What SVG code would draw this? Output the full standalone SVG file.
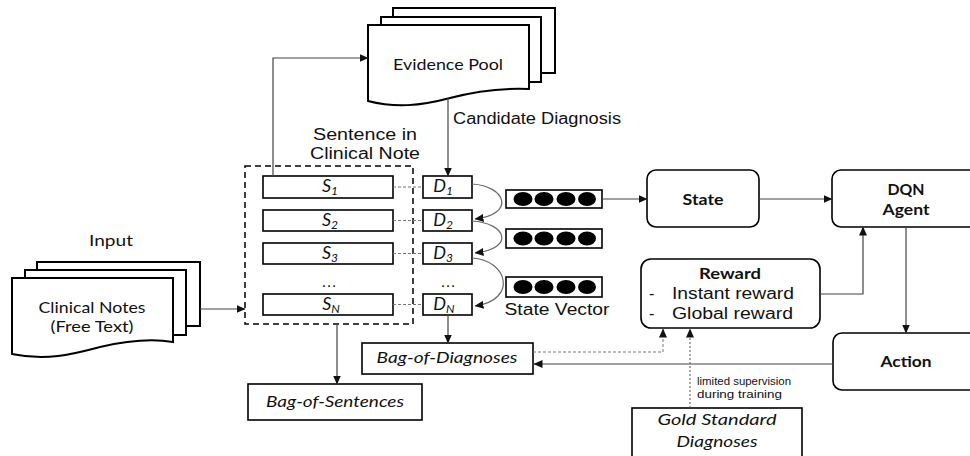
<svg xmlns="http://www.w3.org/2000/svg" width="970" height="456" viewBox="0 0 970 456">
  <defs>
    <marker id="arrow" markerUnits="userSpaceOnUse" markerWidth="9" markerHeight="8" refX="8.5" refY="4" orient="auto">
      <path d="M0,0 L9,4 L0,8 Z" fill="#111"/>
    </marker>
  </defs>
  <style>
    .doc { fill: #fff; stroke: #000; stroke-width: 2; }
    .box { fill: #fff; stroke: #000; stroke-width: 1.6; }
    .rbox { fill: #fff; stroke: #000; stroke-width: 1.6; }
    .dash-frame { fill: none; stroke: #000; stroke-width: 1.5; stroke-dasharray: 6 4; }
    .line { fill: none; stroke: #444; stroke-width: 1.2; }
    .curve { fill: none; stroke: #666; stroke-width: 1.2; }
    .link { fill: none; stroke: #777; stroke-width: 1; stroke-dasharray: 3 2; }
    .dotted { fill: none; stroke: #555; stroke-width: 1; stroke-dasharray: 2 2; }
    .sans { font-family: "Liberation Sans", Arial, sans-serif; font-size: 16px; fill: #111; }
    .small { font-family: "Liberation Sans", Arial, sans-serif; font-size: 11.5px; fill: #111; }
    .hum { font-family: Lato, "Open Sans", sans-serif; font-size: 16px; fill: #111; }
    .bold { font-family: Lato, "Open Sans", sans-serif; font-size: 16px; font-weight: bold; fill: #111; }
    .ital { font-family: Lato, "Open Sans", sans-serif; font-size: 16px; font-style: italic; fill: #111; }
    .cell { font-family: Lato, "Open Sans", sans-serif; font-size: 18px; font-style: italic; fill: #111; }
    .sub { font-size: 12px; }
    .dot { fill: #000; }
  </style>

  <!-- evidence pool document stack -->
  <g id="evidence-pool">
    <rect class="doc" x="393" y="8" width="162" height="65"/>
    <rect class="doc" x="381" y="17" width="160" height="65"/>
    <path class="doc" d="M368,25 H529 V89 C505,88 480,90 450,98 C420,106 395,108 368,101 Z"/>
    <text class="hum" x="448" y="70" text-anchor="middle" textLength="110" lengthAdjust="spacingAndGlyphs">Evidence Pool</text>
  </g>

  <!-- input clinical notes document stack -->
  <g id="clinical-notes">
    <text class="hum" x="111" y="246" text-anchor="middle" textLength="44" lengthAdjust="spacingAndGlyphs">Input</text>
    <rect class="doc" x="37" y="262" width="163" height="64"/>
    <rect class="doc" x="25" y="270" width="161" height="65"/>
    <path class="doc" d="M12,278 H173 V342 C155,339 130,340 100,347 C80,352 50,362 12,354 Z"/>
    <text class="hum" x="92" y="313" text-anchor="middle" textLength="107" lengthAdjust="spacingAndGlyphs">Clinical Notes</text>
    <text class="hum" x="92" y="332" text-anchor="middle" textLength="83" lengthAdjust="spacingAndGlyphs">(Free Text)</text>
  </g>

  <!-- sentences of the note -->
  <g id="sentences">
    <text class="sans" x="365" y="140" text-anchor="middle" textLength="104" lengthAdjust="spacingAndGlyphs">Sentence in</text>
    <text class="sans" x="365" y="159" text-anchor="middle" textLength="110" lengthAdjust="spacingAndGlyphs">Clinical Note</text>
    <rect class="dash-frame" x="245" y="166" width="168" height="158"/>
    <rect class="box" x="263" y="176" width="130" height="22"/>
    <rect class="box" x="263" y="210" width="130" height="21"/>
    <rect class="box" x="263" y="243" width="130" height="21"/>
    <rect class="box" x="263" y="294" width="130" height="21"/>
    <text class="cell" x="330" y="192" text-anchor="middle">S<tspan class="sub" dy="3">1</tspan></text>
    <text class="cell" x="330" y="226" text-anchor="middle">S<tspan class="sub" dy="3">2</tspan></text>
    <text class="cell" x="330" y="259" text-anchor="middle">S<tspan class="sub" dy="3">3</tspan></text>
    <text class="sans" x="329" y="287" text-anchor="middle" textLength="20" lengthAdjust="spacing">…</text>
    <text class="cell" x="331" y="310" text-anchor="middle">S<tspan class="sub" dy="3">N</tspan></text>
  </g>

  <!-- candidate diagnoses -->
  <g id="diagnoses">
    <rect class="box" x="423" y="176" width="49" height="22"/>
    <rect class="box" x="423" y="210" width="49" height="21"/>
    <rect class="box" x="423" y="243" width="49" height="21"/>
    <rect class="box" x="423" y="294" width="49" height="21"/>
    <text class="cell" x="443" y="192" text-anchor="middle">D<tspan class="sub" dy="3">1</tspan></text>
    <text class="cell" x="443" y="226" text-anchor="middle">D<tspan class="sub" dy="3">2</tspan></text>
    <text class="cell" x="443" y="259" text-anchor="middle">D<tspan class="sub" dy="3">3</tspan></text>
    <text class="sans" x="448" y="287" text-anchor="middle" textLength="20" lengthAdjust="spacing">…</text>
    <text class="cell" x="444" y="310" text-anchor="middle">D<tspan class="sub" dy="3">N</tspan></text>
  </g>

  <!-- state vectors -->
  <g id="state-vectors">
    <rect class="box" x="506" y="190" width="96" height="18"/>
    <ellipse class="dot" cx="523" cy="199" rx="9.5" ry="7"/>
    <ellipse class="dot" cx="544" cy="199" rx="9.5" ry="7"/>
    <ellipse class="dot" cx="566" cy="199" rx="9.5" ry="7"/>
    <ellipse class="dot" cx="587" cy="199" rx="9" ry="7"/>
    <rect class="box" x="506" y="229" width="96" height="19"/>
    <ellipse class="dot" cx="523" cy="238.5" rx="9.5" ry="7"/>
    <ellipse class="dot" cx="544" cy="238.5" rx="9.5" ry="7"/>
    <ellipse class="dot" cx="566" cy="238.5" rx="9.5" ry="7"/>
    <ellipse class="dot" cx="587" cy="238.5" rx="9" ry="7"/>
    <rect class="box" x="506" y="277" width="96" height="20"/>
    <ellipse class="dot" cx="523" cy="287" rx="9.5" ry="7"/>
    <ellipse class="dot" cx="544" cy="287" rx="9.5" ry="7"/>
    <ellipse class="dot" cx="566" cy="287" rx="9.5" ry="7"/>
    <ellipse class="dot" cx="587" cy="287" rx="9" ry="7"/>
    <text class="sans" x="557" y="315" text-anchor="middle" textLength="105" lengthAdjust="spacingAndGlyphs">State Vector</text>
  </g>

  <g id="state">
    <rect class="rbox" x="647" y="170" width="112" height="57" rx="9"/>
    <text class="bold" x="703" y="205" text-anchor="middle" textLength="41" lengthAdjust="spacingAndGlyphs">State</text>
  </g>

  <g id="dqn-agent">
    <rect class="rbox" x="832" y="170" width="160" height="57" rx="9"/>
    <text class="bold" x="906" y="195" text-anchor="middle" textLength="37" lengthAdjust="spacingAndGlyphs">DQN</text>
    <text class="bold" x="906" y="215" text-anchor="middle" textLength="47" lengthAdjust="spacingAndGlyphs">Agent</text>
  </g>

  <g id="reward">
    <rect class="rbox" x="641" y="259" width="179" height="69" rx="10"/>
    <text class="bold" x="730" y="279" text-anchor="middle" textLength="62" lengthAdjust="spacingAndGlyphs">Reward</text>
    <text class="sans" x="649" y="299">-</text>
    <text class="sans" x="672" y="299" textLength="122" lengthAdjust="spacingAndGlyphs">Instant reward</text>
    <text class="sans" x="649" y="319">-</text>
    <text class="sans" x="672" y="319" textLength="121" lengthAdjust="spacingAndGlyphs">Global reward</text>
  </g>

  <g id="action">
    <rect class="rbox" x="833" y="333" width="160" height="57" rx="9"/>
    <text class="bold" x="906" y="367" text-anchor="middle" textLength="51" lengthAdjust="spacingAndGlyphs">Action</text>
  </g>

  <g id="bag-of-diagnoses">
    <rect class="box" x="362" y="343" width="171" height="31"/>
    <text class="ital" x="447" y="363" text-anchor="middle" textLength="141" lengthAdjust="spacingAndGlyphs">Bag-of-Diagnoses</text>
  </g>

  <g id="bag-of-sentences">
    <rect class="box" x="248" y="384" width="174" height="36"/>
    <text class="ital" x="335" y="407" text-anchor="middle" textLength="138" lengthAdjust="spacingAndGlyphs">Bag-of-Sentences</text>
  </g>

  <g id="gold-standard">
    <rect class="box" x="632" y="408" width="170" height="60"/>
    <text class="ital" x="717" y="425" text-anchor="middle" textLength="119" lengthAdjust="spacingAndGlyphs">Gold Standard</text>
    <text class="ital" x="717" y="447" text-anchor="middle" textLength="81" lengthAdjust="spacingAndGlyphs">Diagnoses</text>
  </g>

  <!-- connectors -->
  <g id="connectors">
    <path class="line" d="M273,176 V58 H368" marker-end="url(#arrow)"/>
    <path class="line" d="M448,98 V176" marker-end="url(#arrow)"/>
    <text class="sans" x="453" y="124" textLength="168" lengthAdjust="spacingAndGlyphs">Candidate Diagnosis</text>
    <path class="line" d="M200,309 H245" marker-end="url(#arrow)"/>
    <path class="link" d="M393,187 H423 M393,220.5 H423 M393,253.5 H423 M393,304.5 H423"/>
    <path class="curve" d="M472,184 C506,186 516,214 475,219" marker-end="url(#arrow)"/>
    <path class="curve" d="M472,221 C506,223 516,248 475,253" marker-end="url(#arrow)"/>
    <path class="curve" d="M472,258 C508,260 518,300 475,306" marker-end="url(#arrow)"/>
    <path class="line" d="M602,199 H647" marker-end="url(#arrow)"/>
    <path class="line" d="M759,199 H832" marker-end="url(#arrow)"/>
    <path class="line" d="M820,294 H863 V227" marker-end="url(#arrow)"/>
    <path class="line" d="M906,227 V333" marker-end="url(#arrow)"/>
    <path class="line" d="M833,364 H534" marker-end="url(#arrow)"/>
    <path class="line" d="M337,324 V384" marker-end="url(#arrow)"/>
    <path class="line" d="M448,315 V343" marker-end="url(#arrow)"/>
    <path class="link" d="M533,352 H663 V329" marker-end="url(#arrow)"/>
    <path class="dotted" d="M690,408 V329" marker-end="url(#arrow)"/>
    <text class="small" x="697" y="385" textLength="94" lengthAdjust="spacingAndGlyphs">limited supervision</text>
    <text class="small" x="697" y="398" textLength="85" lengthAdjust="spacingAndGlyphs">during training</text>
  </g>
</svg>
